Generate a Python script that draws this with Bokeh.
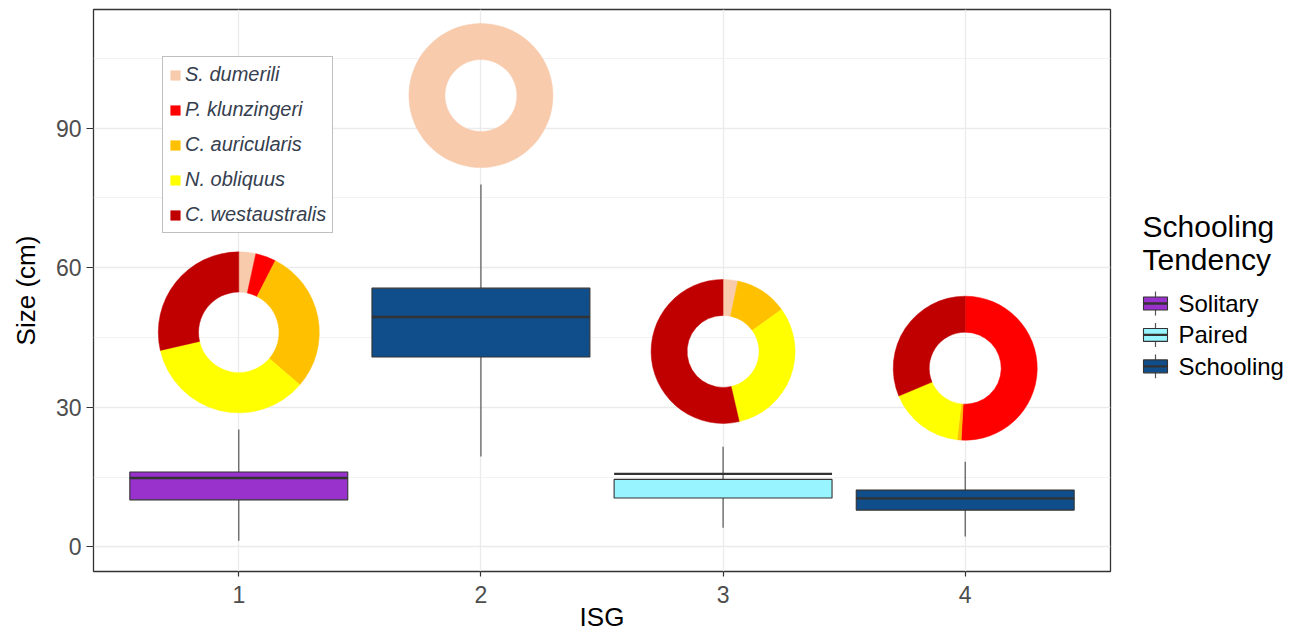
import math

from bokeh.core.properties import value
from bokeh.embed import file_html
from bokeh.layouts import row
from bokeh.models import ColumnDataSource, FixedTicker, Legend, LegendItem, Range1d
from bokeh.plotting import figure
from bokeh.resources import INLINE

# ---- body size per ISG (cm) ----
isg = [1, 2, 3, 4]
tendency = ["Solitary", "Schooling", "Paired", "Schooling"]
whisker_low = [1.3, 19.4, 4.1, 2.2]
q1 = [10.1, 40.8, 10.5, 7.9]
median = [14.8, 49.4, 15.7, 10.4]
q3 = [16.1, 55.6, 14.5, 12.2]
whisker_high = [25.2, 77.9, 21.5, 18.3]

tendency_levels = ["Solitary", "Paired", "Schooling"]
tendency_colors = ["#9932CC", "#98F5FF", "#104E8B"]

# ---- species composition of each ISG (%) ----
species = ["S. dumerili", "P. klunzingeri", "C. auricularis", "N. obliquus", "C. westaustralis"]
species_colors = ["#F8CBAD", "#FF0000", "#FFC000", "#FFFF00", "#C00000"]
share_dumerili = [3.4, 100.0, 3.3, 0.0]
share_klunzingeri = [4.1, 0.0, 0.0, 50.9]
share_auricularis = [28.8, 0.0, 11.8, 0.9]
share_obliquus = [35.1, 0.0, 31.3, 16.9]
share_westaustralis = [28.6, 0.0, 53.6, 31.3]
species_share = [share_dumerili, share_klunzingeri, share_auricularis,
                 share_obliquus, share_westaustralis]

# where each composition ring sits (size axis) and how big it is drawn
ring_y = [46.1, 97.0, 42.0, 38.4]
ring_outer_px = [80.5, 72.0, 72.0, 72.0]
ring_hole = 0.5

BOX_W = 0.9
FONT = "Liberation Sans"
INK = "#333333"
TOP, BOTTOM, HEIGHT = 9, 62, 634

p = figure(width=1120, height=HEIGHT, output_backend="svg", toolbar_location=None,
           x_range=Range1d(0.4, 4.6), y_range=Range1d(-5.3, 115.5),
           min_border_left=93, min_border_right=10, min_border_top=TOP,
           min_border_bottom=BOTTOM)
p.background_fill_color = "white"
p.border_fill_color = "white"
p.outline_line_color = INK
p.outline_line_width = 1.3

y_ticks = FixedTicker(ticks=[0, 30, 60, 90], minor_ticks=[15, 45, 75, 105])
x_ticks = FixedTicker(ticks=isg, minor_ticks=[])
p.yaxis.ticker = y_ticks
p.ygrid.ticker = y_ticks
p.xaxis.ticker = x_ticks
p.xgrid.ticker = x_ticks
for g in (p.xgrid, p.ygrid):
    g.grid_line_color = "#EBEBEB"
    g.grid_line_width = 1.3
p.ygrid.minor_grid_line_color = "#EFEFEF"
p.ygrid.minor_grid_line_width = 0.8

for ax in (p.xaxis, p.yaxis):
    ax.axis_line_color = None
    ax.major_tick_line_color = INK
    ax.major_tick_line_width = 1.2
    ax.major_tick_in = 0
    ax.minor_tick_line_color = None
    ax.major_label_text_font = FONT
    ax.major_label_text_font_size = "23px"
    ax.major_label_text_color = "#4D4D4D"
    ax.axis_label_text_font = FONT
    ax.axis_label_text_font_size = "26px"
    ax.axis_label_text_font_style = "normal"
    ax.axis_label_text_color = "black"

p.xaxis.axis_label = "ISG"
p.xaxis.major_tick_out = 5
p.xaxis.major_label_standoff = 9
p.xaxis.axis_label_standoff = -4
p.yaxis.axis_label = "Size (cm)"
p.yaxis.major_tick_out = 7
p.yaxis.major_label_standoff = 5
p.yaxis.axis_label_standoff = 12

# ---- box plots ----
fill = [tendency_colors[tendency_levels.index(t)] for t in tendency]
box = ColumnDataSource(dict(
    x=isg,
    left=[x - BOX_W / 2 for x in isg],
    right=[x + BOX_W / 2 for x in isg],
    lo=whisker_low, q1=q1, med=median, q3=q3, hi=whisker_high, fill=fill,
))
p.segment(x0="x", y0="q3", x1="x", y1="hi", source=box, line_color="#555555", line_width=1.2)
p.segment(x0="x", y0="lo", x1="x", y1="q1", source=box, line_color="#555555", line_width=1.2)
p.quad(left="left", right="right", bottom="q1", top="q3", source=box,
       fill_color="fill", line_color=INK, line_width=1.1)
p.segment(x0="left", y0="med", x1="right", y1="med", source=box,
          line_color=INK, line_width=2.3)

# ---- composition rings (clockwise from 12 o'clock) ----
cum = [0.0] * len(isg)
legend_items = []
for name, color, shares in zip(species, species_colors, species_share):
    cols = dict(x=[], y=[], inner=[], outer=[], start=[], end=[])
    for i, s in enumerate(shares):
        c0 = cum[i] / 100.0
        c1 = (cum[i] + s) / 100.0
        cum[i] += s
        if s <= 0:
            continue
        start = math.pi / 2 - 2 * math.pi * c1
        end = math.pi / 2 - 2 * math.pi * c0
        if end - start >= 2 * math.pi - 1e-9:
            start += 1e-3
        cols["x"].append(isg[i])
        cols["y"].append(ring_y[i])
        cols["outer"].append(ring_outer_px[i])
        cols["inner"].append(ring_outer_px[i] * ring_hole)
        cols["start"].append(start)
        cols["end"].append(end)
    r = p.annular_wedge(x="x", y="y", inner_radius="inner", outer_radius="outer",
                        inner_radius_units="screen", outer_radius_units="screen",
                        start_angle="start", end_angle="end",
                        source=ColumnDataSource(cols),
                        fill_color=color, line_color=color, line_width=0.5)
    legend_items.append(LegendItem(label=name, renderers=[r]))

species_legend = Legend(items=legend_items, location=(69, 338), margin=0,
                        padding=6, spacing=12, label_height=22,
                        glyph_width=12, glyph_height=12, label_standoff=4,
                        border_line_color="#7F7F7F", border_line_width=1,
                        background_fill_color="white", background_fill_alpha=1,
                        label_text_font=FONT, label_text_font_style="italic",
                        label_text_font_size="20px", label_text_color="#36404E")
p.add_layout(species_legend)

# ---- schooling tendency key (drawn in page pixels) ----
key = figure(width=171, height=HEIGHT, output_backend="svg", toolbar_location=None,
             title=None,
             x_range=Range1d(1120, 1291), y_range=Range1d(HEIGHT - BOTTOM, TOP),
             min_border_left=0, min_border_right=0, min_border_top=TOP,
             min_border_bottom=BOTTOM)
key.axis.visible = False
key.grid.visible = False
key.outline_line_color = None
key.background_fill_color = "white"
key.border_fill_color = "white"

key.text(x=[1142, 1142], y=[226, 259], text=["Schooling", "Tendency"],
         text_font=value(FONT), text_font_size=value("30px"),
         text_baseline="middle", text_color="black")

row_y = [303.5 + 31.5 * k for k in range(len(tendency_levels))]
key_src = ColumnDataSource(dict(
    y=row_y, top=[y - 6.5 for y in row_y], bottom=[y + 6.5 for y in row_y],
    w0=[y - 12 for y in row_y], w1=[y + 12 for y in row_y],
    label=tendency_levels, fill=tendency_colors,
))
key.segment(x0=1155, x1=1155, y0="w0", y1="w1", source=key_src,
            line_color="#555555", line_width=1.2)
key.quad(left=1143, right=1167, top="top", bottom="bottom", source=key_src,
         fill_color="fill", line_color=INK, line_width=1.1)
key.segment(x0=1143, x1=1167, y0="y", y1="y", source=key_src,
            line_color=INK, line_width=2.3)
key.text(x=1178, y="y", text="label", source=key_src,
         text_font=value(FONT), text_font_size=value("24px"),
         text_baseline="middle", text_color="black")

layout = row(p, key)
open("out.html", "w").write(file_html(layout, INLINE))
